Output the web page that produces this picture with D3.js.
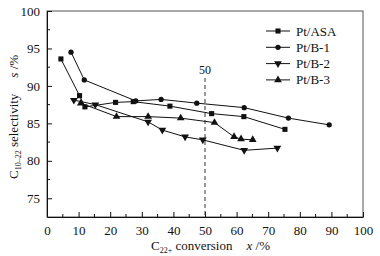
<!DOCTYPE html>
<html>
<head>
<meta charset="utf-8">
<script src="https://cdn.jsdelivr.net/npm/d3@7"></script>
<style>
  body { margin: 0; background: #fff; }
  svg text { font-family: "Liberation Serif", "Times New Roman", serif; fill: #111; }
</style>
</head>
<body>
<div id="chart"></div>
<script>
// data: [conversion %, selectivity %]
const seriesNames = ["Pt/ASA", "Pt/B-1", "Pt/B-2", "Pt/B-3"];
const ptASA = [[4.4, 93.6], [10.3, 88.7], [12.0, 87.2], [21.7, 87.8], [27.3, 87.9], [38.9, 87.3], [52.1, 86.3], [62.3, 85.9], [75.3, 84.2]];
const ptB1  = [[7.6, 94.5], [11.8, 90.8], [28.1, 88.0], [36.1, 88.2], [47.4, 87.7], [62.4, 87.1], [76.4, 85.7], [89.3, 84.8]];
const ptB2  = [[8.5, 88.1], [15.3, 87.5], [32.0, 85.2], [36.5, 84.1], [43.7, 83.2], [49.3, 82.8], [62.4, 81.4], [72.9, 81.7]];
const ptB3  = [[10.7, 87.7], [22.0, 85.9], [32.0, 85.9], [42.3, 85.7], [53.0, 85.1], [59.2, 83.2], [61.4, 82.9], [65.1, 82.8]];
const xTicks = [0, 10, 20, 30, 40, 50, 60, 70, 80, 90, 100];
const yTicks = [75, 80, 85, 90, 95, 100];
const refLine = 50;

const W = 380, H = 256;
const margin = { top: 11, right: 17, bottom: 39, left: 47 };
const width = W - margin.left - margin.right;
const height = H - margin.top - margin.bottom;

const svg = d3.select("#chart").append("svg")
  .attr("width", W).attr("height", H);
const g = svg.append("g")
  .attr("transform", "translate(" + margin.left + "," + margin.top + ")");

const x = d3.scaleLinear().domain([0, 100]).range([0, width]);
const y = d3.scaleLinear().domain([72.5, 100]).range([height, 0]);

// frame
g.append("rect")
  .attr("width", width).attr("height", height)
  .attr("fill", "none").attr("stroke", "#555").attr("stroke-width", 1);

// bottom axis, ticks pointing in
const xAxis = g.append("g").attr("transform", "translate(0," + height + ")")
  .call(d3.axisBottom(x).tickValues(xTicks).tickSizeInner(-5).tickSizeOuter(0).tickPadding(9));
xAxis.selectAll("text").attr("font-size", 13);
xAxis.append("g").selectAll("line")
  .data(d3.range(5, 100, 10)).join("line")
  .attr("x1", d => x(d)).attr("x2", d => x(d))
  .attr("y1", 0).attr("y2", -3).attr("stroke", "#111");

// left axis
const yAxis = g.append("g")
  .call(d3.axisLeft(y).tickValues(yTicks).tickSizeInner(-5).tickSizeOuter(0).tickPadding(7));
yAxis.selectAll("text").attr("font-size", 13);
yAxis.append("g").selectAll("line")
  .data([77.5, 82.5, 87.5, 92.5, 97.5]).join("line")
  .attr("y1", d => y(d)).attr("y2", d => y(d))
  .attr("x1", 0).attr("x2", 3).attr("stroke", "#111");
g.selectAll(".domain").attr("stroke", "#111");
g.selectAll(".tick line").attr("stroke", "#111");

// dashed marker at 50 %
g.append("line")
  .attr("x1", x(refLine)).attr("x2", x(refLine))
  .attr("y1", 67).attr("y2", height)
  .attr("stroke", "#333").attr("stroke-dasharray", "4,3");
g.append("text")
  .attr("x", x(refLine)).attr("y", 63)
  .attr("text-anchor", "middle").attr("font-size", 12)
  .text(refLine);

// series
const shapes = [
  { type: d3.symbolSquare, size: 26, rot: 0 },
  { type: d3.symbolCircle, size: 22, rot: 0 },
  { type: d3.symbolTriangle, size: 26, rot: 180 },
  { type: d3.symbolTriangle, size: 26, rot: 0 }
];
const allSeries = [ptASA, ptB1, ptB2, ptB3];
const line = d3.line().x(d => x(d[0])).y(d => y(d[1]));

allSeries.forEach((s, i) => {
  g.append("path").datum(s)
    .attr("d", line)
    .attr("fill", "none").attr("stroke", "#111").attr("stroke-width", 1);
  g.selectAll(".m" + i).data(s).join("path")
    .attr("class", "m" + i)
    .attr("d", d3.symbol().type(shapes[i].type).size(shapes[i].size))
    .attr("transform", d => "translate(" + x(d[0]) + "," + y(d[1]) + ") rotate(" + shapes[i].rot + ")")
    .attr("fill", "#111");
});

// legend
const legend = svg.append("g").attr("transform", "translate(266,31)");
seriesNames.forEach((name, i) => {
  const row = legend.append("g").attr("transform", "translate(0," + (i * 16.3) + ")");
  row.append("line").attr("x1", 0).attr("x2", 24).attr("stroke", "#111");
  row.append("path")
    .attr("d", d3.symbol().type(shapes[i].type).size(shapes[i].size))
    .attr("transform", "translate(12,0) rotate(" + shapes[i].rot + ")")
    .attr("fill", "#111");
  row.append("text").attr("x", 30).attr("y", 4.5).attr("font-size", 13).text(name);
});

// x title
const xt = svg.append("text")
  .attr("x", 151).attr("y", 250).attr("font-size", 13);
xt.append("tspan").text("C");
xt.append("tspan").attr("dy", 3).attr("font-size", 8).text("22+");
xt.append("tspan").attr("dy", -3).text(" conversion");
xt.append("tspan").attr("dx", 14).attr("font-style", "italic").text("x");
xt.append("tspan").text(" /%");

// y title
const yt = svg.append("text")
  .attr("transform", "translate(18,179) rotate(-90)")
  .attr("font-size", 13);
yt.append("tspan").text("C");
yt.append("tspan").attr("dy", 3).attr("font-size", 8).text("10\u201322");
yt.append("tspan").attr("dy", -3).text(" selectivity");
yt.append("tspan").attr("dx", 16).attr("font-style", "italic").text("s");
yt.append("tspan").text(" /%");
</script>
</body>
</html>
